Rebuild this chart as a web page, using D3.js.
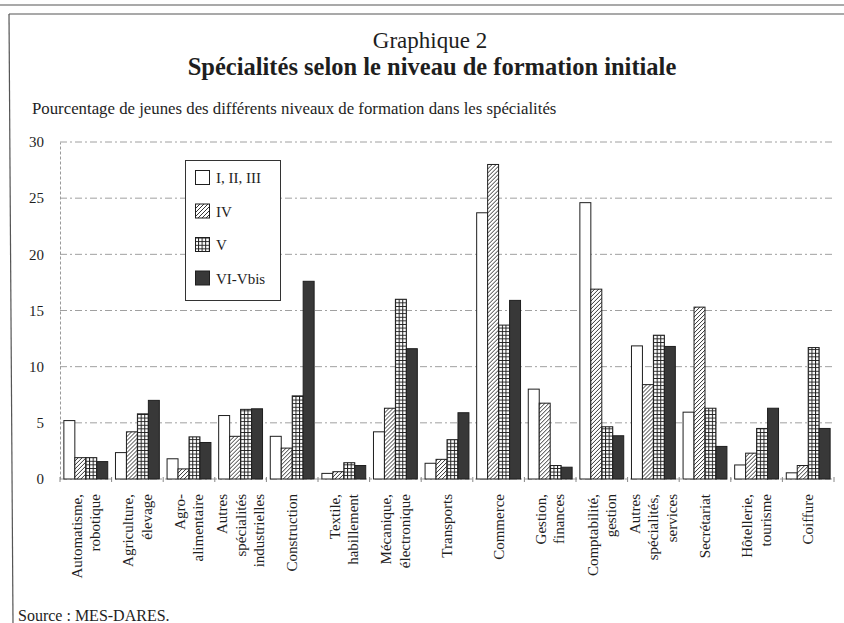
<!DOCTYPE html>
<html>
<head>
<meta charset="utf-8">
<script src="https://cdn.jsdelivr.net/npm/d3@7"></script>
<style>
  body { margin: 0; background: #fff; }
  svg { display: block; font-family: "Liberation Serif", "DejaVu Serif", serif; }
  svg text { font-family: "Liberation Serif", "DejaVu Serif", serif; }
</style>
</head>
<body>
<svg id="chart" width="844" height="623"></svg>
<script>
// categories (line breaks as in the print)
var categories = [
    ["Automatisme,", "robotique"],
    ["Agriculture,", "élevage"],
    ["Agro-", "alimentaire"],
    ["Autres", "spécialités", "industrielles"],
    ["Construction"],
    ["Textile,", "habillement"],
    ["Mécanique,", "électronique"],
    ["Transports"],
    ["Commerce"],
    ["Gestion,", "finances"],
    ["Comptabilité,", "gestion"],
    ["Autres", "spécialités,", "services"],
    ["Secrétariat"],
    ["Hôtellerie,", "tourisme"],
    ["Coiffure"]
];
var levels = ["I, II, III", "IV", "V", "VI-Vbis"];

var levelI   = [5.2, 2.35, 1.8, 5.65, 3.8, 0.5, 4.2, 1.4, 23.7, 8.0, 24.6, 11.85, 5.95, 1.25, 0.55];
var levelIV  = [1.9, 4.2, 0.9, 3.8, 2.75, 0.65, 6.3, 1.75, 28.0, 6.75, 16.9, 8.4, 15.3, 2.3, 1.2];
var levelV   = [1.9, 5.8, 3.75, 6.2, 7.4, 1.45, 16.0, 3.5, 13.7, 1.2, 4.65, 12.8, 6.3, 4.5, 11.7];
var levelVI  = [1.55, 7.0, 3.25, 6.25, 17.6, 1.2, 11.6, 5.9, 15.9, 1.05, 3.85, 11.8, 2.9, 6.3, 4.5];

var yTicks = [0, 5, 10, 15, 20, 25, 30];

var series = [levelI, levelIV, levelV, levelVI];
var fills = ["#fff", "url(#hatch)", "url(#grid)", "#383838"];

var svg = d3.select("#chart");
var ink = "#1e1e1e";

// patterns
var defs = svg.append("defs");
var hatch = defs.append("pattern")
    .attr("id", "hatch").attr("patternUnits", "userSpaceOnUse")
    .attr("width", 4).attr("height", 4);
hatch.append("rect").attr("width", 4).attr("height", 4).attr("fill", "#fff");
hatch.append("path")
    .attr("d", "M-1,1 l2,-2 M0,4 l4,-4 M3,5 l2,-2")
    .attr("stroke", ink).attr("stroke-width", 0.9);

var grid = defs.append("pattern")
    .attr("id", "grid").attr("patternUnits", "userSpaceOnUse")
    .attr("width", 3.6).attr("height", 3.6);
grid.append("rect").attr("width", 3.6).attr("height", 3.6).attr("fill", "#fff");
grid.append("path")
    .attr("d", "M0,0.5 H3.6 M0.5,0 V3.6")
    .attr("stroke", ink).attr("stroke-width", 1);

// frame of the scanned page
svg.append("line").attr("x1", 0).attr("x2", 844).attr("y1", 5).attr("y2", 5)
    .attr("stroke", "#555").attr("stroke-width", 1.2);
svg.append("line").attr("x1", 9).attr("x2", 844).attr("y1", 14).attr("y2", 14)
    .attr("stroke", "#555").attr("stroke-width", 1.2);
svg.append("line").attr("x1", 9).attr("x2", 13).attr("y1", 14).attr("y2", 623)
    .attr("stroke", "#555").attr("stroke-width", 1.2);

// titles
svg.append("text").attr("x", 430).attr("y", 48).attr("text-anchor", "middle")
    .attr("font-size", 23).attr("fill", ink).text("Graphique 2");
svg.append("text").attr("x", 432).attr("y", 75).attr("text-anchor", "middle")
    .attr("font-size", 24.5).attr("font-weight", "bold").attr("fill", ink)
    .text("Spécialités selon le niveau de formation initiale");
svg.append("text").attr("x", 32).attr("y", 114)
    .attr("font-size", 16.8).attr("fill", ink)
    .text("Pourcentage de jeunes des différents niveaux de formation dans les spécialités");

var x = d3.scaleBand()
    .domain(d3.range(categories.length))
    .range([60, 834])
    .paddingInner(0.15)
    .paddingOuter(0.075);

var xi = d3.scaleBand()
    .domain(d3.range(levels.length))
    .range([0, x.bandwidth()]);

var y = d3.scaleLinear()
    .domain([0, 30])
    .range([479, 142]);

// gridlines
svg.append("g").selectAll("line")
    .data(yTicks)
    .enter()
    .append("line")
    .attr("x1", 60).attr("x2", 834)
    .attr("y1", function(d) { return y(d); })
    .attr("y2", function(d) { return y(d); })
    .attr("stroke", "#a0a0a0")
    .attr("stroke-width", 1)
    .attr("stroke-dasharray", "7,3,2,3");

// y axis
var yAxis = d3.axisLeft(y).tickValues(yTicks).tickSize(0).tickPadding(16);
var gy = svg.append("g")
    .attr("transform", "translate(60,0)")
    .call(yAxis)
    .attr("font-family", null);
gy.select(".domain").attr("stroke", "#9a9a9a").attr("stroke-dasharray", "3,2");
gy.selectAll("text").attr("font-size", 15).attr("fill", ink);

// bars
var groups = svg.append("g").selectAll("g")
    .data(categories)
    .enter()
    .append("g")
    .attr("transform", function(d, i) { return "translate(" + x(i) + ",0)"; });

groups.selectAll("rect")
    .data(function(d, i) { return series.map(function(s, k) { return {k: k, v: s[i]}; }); })
    .enter()
    .append("rect")
    .attr("x", function(d) { return xi(d.k); })
    .attr("width", xi.bandwidth())
    .attr("y", function(d) { return y(d.v); })
    .attr("height", function(d) { return y(0) - y(d.v); })
    .attr("fill", function(d) { return fills[d.k]; })
    .attr("stroke", ink)
    .attr("stroke-width", 1);

// small ticks between groups on the zero line
var step = x.step();
svg.append("g").selectAll("line")
    .data(d3.range(categories.length + 1))
    .enter()
    .append("line")
    .attr("x1", function(d) { return 60 + d * step; })
    .attr("x2", function(d) { return 60 + d * step; })
    .attr("y1", y(0) - 2).attr("y2", y(0) + 3)
    .attr("stroke", "#888");

// category labels, rotated
var lineGap = 18.5;
svg.append("g").selectAll("text")
    .data(categories)
    .enter()
    .append("text")
    .attr("transform", function(d, i) {
        var cx = x(i) + x.bandwidth() / 2;
        return "translate(" + cx + ",494) rotate(-90)";
    })
    .attr("text-anchor", "end")
    .attr("font-size", 15)
    .attr("fill", ink)
    .each(function(d) {
        var t = d3.select(this);
        var off = -(d.length - 1) * lineGap / 2;
        d.forEach(function(line, j) {
            t.append("tspan")
                .attr("x", 0)
                .attr("y", off + j * lineGap + 5)
                .text(line);
        });
    });

// legend
var leg = svg.append("g");
leg.append("rect").attr("x", 185.5).attr("y", 160.5).attr("width", 95).attr("height", 140)
    .attr("fill", "#fff").attr("stroke", "#333").attr("stroke-width", 1);
levels.forEach(function(name, k) {
    var cy = 178 + k * 33.5;
    leg.append("rect").attr("x", 195.5).attr("y", cy - 7.5).attr("width", 14).attr("height", 14)
        .attr("fill", fills[k]).attr("stroke", ink).attr("stroke-width", 1);
    leg.append("text").attr("x", 216).attr("y", cy + 5)
        .attr("font-size", 15).attr("fill", ink).text(name);
});

// source
svg.append("text").attr("x", 18).attr("y", 621)
    .attr("font-size", 16).attr("fill", ink).text("Source : MES-DARES.");
</script>
</body>
</html>
